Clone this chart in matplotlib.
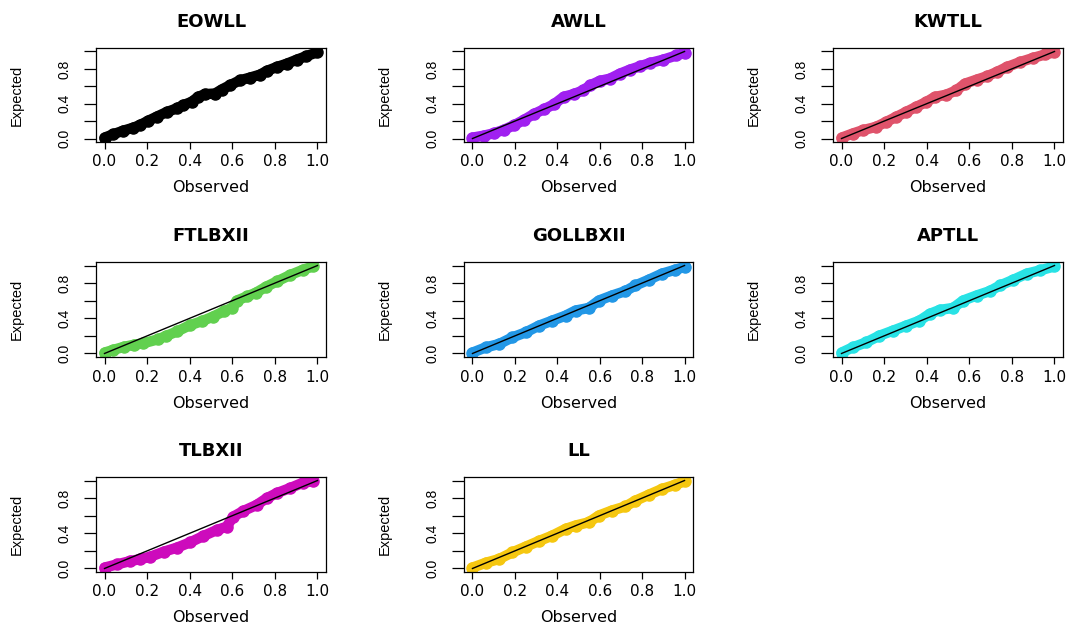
import matplotlib
matplotlib.use("Agg")
import matplotlib.pyplot as plt
from matplotlib import font_manager as fm

# P-P plot values (observed vs expected CDF)
eowll_obs = [0.0, 0.042, 0.089, 0.136, 0.167, 0.206, 0.245, 0.292, 0.339, 0.37, 0.409, 0.44, 0.472,
             0.519, 0.55, 0.589, 0.636, 0.683, 0.73, 0.761, 0.808, 0.855, 0.902, 0.948, 1.0]
eowll_exp = [0.01, 0.05, 0.091, 0.125, 0.156, 0.205, 0.251, 0.304, 0.346, 0.384, 0.422, 0.479, 0.51,
             0.517, 0.563, 0.612, 0.669, 0.70, 0.734, 0.776, 0.821, 0.859, 0.905, 0.947, 0.992]

awll_obs = [0.0, 0.055, 0.10, 0.148, 0.195, 0.242, 0.289, 0.336, 0.383, 0.43, 0.477, 0.523, 0.555,
            0.60, 0.648, 0.695, 0.742, 0.789, 0.836, 0.898, 0.961, 1.0]
awll_exp = [0.01, 0.034, 0.06, 0.10, 0.152, 0.213, 0.281, 0.335, 0.392, 0.479, 0.51, 0.555, 0.612,
            0.662, 0.688, 0.745, 0.791, 0.829, 0.867, 0.905, 0.954, 0.985]

kwtll_obs = [0.0, 0.052, 0.099, 0.162, 0.209, 0.256, 0.303, 0.35, 0.398, 0.437, 0.492, 0.539, 0.579,
             0.634, 0.681, 0.728, 0.775, 0.838, 0.901, 0.956, 1.0]
kwtll_exp = [0.01, 0.057, 0.095, 0.134, 0.19, 0.248, 0.305, 0.363, 0.42, 0.477, 0.504, 0.553, 0.63,
             0.676, 0.714, 0.763, 0.82, 0.878, 0.927, 0.966, 0.99]

ftlbxii_obs = [0.0, 0.04, 0.09, 0.14, 0.18, 0.25, 0.29, 0.34, 0.40, 0.46, 0.51, 0.56, 0.60, 0.62,
               0.67, 0.71, 0.76, 0.81, 0.87, 0.93, 0.98]
ftlbxii_exp = [0.01, 0.04, 0.075, 0.10, 0.115, 0.16, 0.20, 0.25, 0.32, 0.37, 0.42, 0.48, 0.52, 0.60,
               0.65, 0.69, 0.76, 0.82, 0.89, 0.95, 0.99]

gollbxii_obs = [0.0, 0.063, 0.125, 0.188, 0.251, 0.313, 0.376, 0.439, 0.486, 0.549, 0.596, 0.658,
                0.721, 0.768, 0.831, 0.893, 0.956, 1.0]
gollbxii_exp = [0.01, 0.07, 0.107, 0.183, 0.24, 0.316, 0.373, 0.43, 0.488, 0.518, 0.602, 0.659,
                0.709, 0.773, 0.838, 0.907, 0.952, 0.983]

aptll_obs = [0.0, 0.052, 0.115, 0.178, 0.241, 0.303, 0.366, 0.414, 0.461, 0.524, 0.571, 0.634,
             0.696, 0.744, 0.807, 0.869, 0.932, 1.0]
aptll_exp = [0.01, 0.069, 0.126, 0.202, 0.259, 0.316, 0.373, 0.45, 0.495, 0.518, 0.602, 0.659,
             0.709, 0.773, 0.838, 0.907, 0.945, 0.99]

tlbxii_obs = [0.0, 0.058, 0.12, 0.167, 0.214, 0.277, 0.339, 0.402, 0.464, 0.527, 0.573, 0.605,
              0.652, 0.714, 0.761, 0.808, 0.87, 0.933, 0.98]
tlbxii_exp = [0.01, 0.046, 0.084, 0.106, 0.133, 0.19, 0.236, 0.297, 0.369, 0.437, 0.475, 0.59,
              0.654, 0.722, 0.798, 0.856, 0.913, 0.977, 0.99]

ll_obs = [0.0, 0.063, 0.125, 0.188, 0.251, 0.313, 0.376, 0.439, 0.486, 0.549, 0.596, 0.658,
          0.721, 0.768, 0.831, 0.893, 0.956, 1.0]
ll_exp = [0.01, 0.065, 0.107, 0.183, 0.248, 0.312, 0.373, 0.45, 0.488, 0.526, 0.602, 0.659,
          0.705, 0.77, 0.838, 0.903, 0.952, 0.99]

models = ["EOWLL", "AWLL", "KWTLL", "FTLBXII", "GOLLBXII", "APTLL", "TLBXII", "LL"]
colors = ["#000000", "#A020F0", "#DF536B", "#61D04F", "#2297E6", "#28E2E5", "#CD0BBC", "#F5C710"]
observed = [eowll_obs, awll_obs, kwtll_obs, ftlbxii_obs, gollbxii_obs, aptll_obs, tlbxii_obs, ll_obs]
expected = [eowll_exp, awll_exp, kwtll_exp, ftlbxii_exp, gollbxii_exp, aptll_exp, tlbxii_exp, ll_exp]

ticks = [0.0, 0.2, 0.4, 0.6, 0.8, 1.0]
xtick_labels = ["0.0", "0.2", "0.4", "0.6", "0.8", "1.0"]
ytick_labels = ["0.0", "", "0.4", "", "0.8", ""]

# panel boxes in pixels (left/right per column, top/bottom per row)
col_px = [(96, 326), (464, 693), (833, 1063)]
row_px = [(48, 142), (262, 357), (477, 572)]
W, H = 1068, 624

names = {f.name for f in fm.fontManager.ttflist}
narrow = "Liberation Sans Narrow" if "Liberation Sans Narrow" in names else "Liberation Sans"


def draw_panel(fig, idx):
    r, c = divmod(idx, 3)
    x0, x1 = col_px[c]
    y0, y1 = row_px[r]
    ax = fig.add_axes([x0 / W, 1 - y1 / H, (x1 - x0) / W, (y1 - y0) / H])

    # thick band of points, then the reference diagonal on top
    ax.plot(observed[idx], expected[idx], "-o", color=colors[idx], lw=7.5, ms=8,
            solid_capstyle="round", solid_joinstyle="round")
    ax.plot([0, 1], [0, 1], color="black", lw=1.0)

    ax.set_xlim(-0.04, 1.04)
    ax.set_ylim(-0.04, 1.04)
    ax.set_xticks(ticks)
    ax.set_xticklabels(xtick_labels, fontsize=11, family="DejaVu Sans")
    ax.set_yticks(ticks)
    ax.set_yticklabels(ytick_labels, fontsize=10, family=narrow, rotation=90, va="center")
    ax.tick_params(axis="x", length=5, width=0.9, pad=4)
    ax.tick_params(axis="y", length=8.5, width=0.9, pad=9)
    for s in ax.spines.values():
        s.set_linewidth(0.9)

    ax.set_xlabel("Observed", fontsize=11.5, family="DejaVu Sans", va="center")
    ax.xaxis.set_label_coords(0.5, -(46 / (y1 - y0)))
    ax.set_ylabel("Expected", fontsize=10.5, family=narrow, va="center")
    ax.yaxis.set_label_coords(-(79 / (x1 - x0)), 0.5)
    ax.text(0.5, 1 + 26 / (y1 - y0), models[idx], transform=ax.transAxes, ha="center",
            va="center", fontsize=13, fontweight="bold", family="DejaVu Sans")


def main():
    fig = plt.figure(figsize=(W / 100, H / 100), dpi=100)
    for i in range(len(models)):
        draw_panel(fig, i)
    fig.savefig("out.png", dpi=100)


if __name__ == "__main__":
    main()
